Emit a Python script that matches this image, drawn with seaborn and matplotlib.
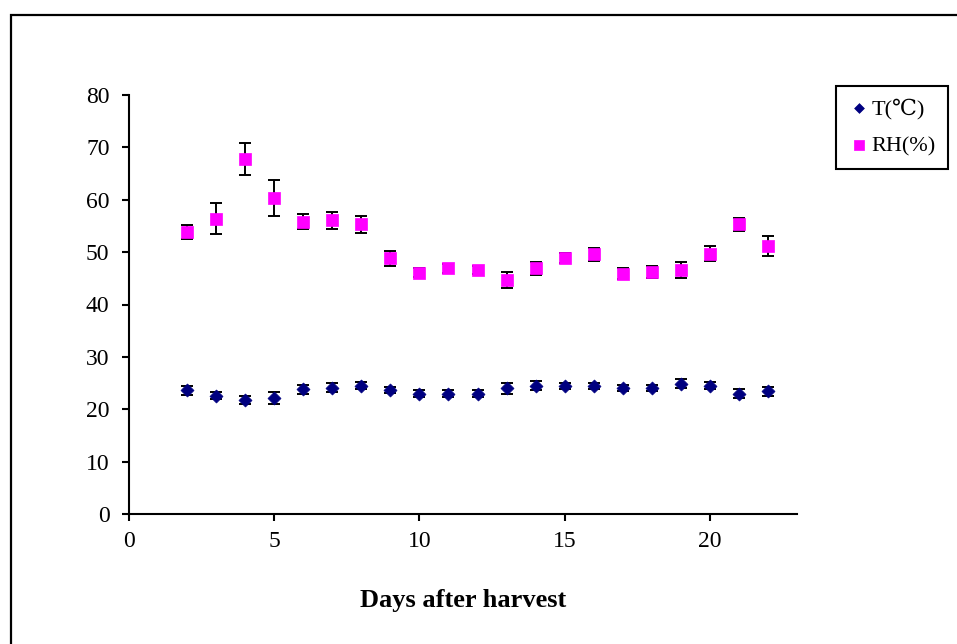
import matplotlib
matplotlib.use("Agg")
import matplotlib.pyplot as plt
import seaborn as sns
import pandas as pd
from matplotlib.patches import Rectangle

days = [2, 3, 4, 5, 6, 7, 8, 9, 10, 11, 12, 13, 14, 15, 16, 17, 18, 19, 20, 21, 22]
temp = [23.6, 22.6, 21.8, 22.1, 23.8, 24.1, 24.5, 23.7, 23.0, 23.0, 23.0, 24.0,
        24.5, 24.5, 24.5, 24.1, 24.1, 24.9, 24.5, 23.0, 23.4]
temp_err = [0.8, 0.7, 0.8, 1.1, 0.8, 0.9, 0.7, 0.6, 0.6, 0.7, 0.7, 1.1,
            0.8, 0.6, 0.6, 0.6, 0.6, 0.8, 0.7, 0.8, 0.8]
rh = [53.8, 56.4, 67.8, 60.3, 55.8, 56.1, 55.3, 48.8, 46.1, 46.9, 46.6, 44.7,
      46.9, 48.9, 49.6, 45.9, 46.2, 46.6, 49.7, 55.3, 51.1]
rh_err = [1.3, 3.0, 3.1, 3.4, 1.4, 1.6, 1.6, 1.5, 0.9, 0.9, 0.8, 1.6,
          1.2, 1.0, 1.2, 1.0, 1.2, 1.6, 1.4, 1.3, 1.9]
x_ticks = [0, 5, 10, 15, 20]
y_ticks = [0, 10, 20, 30, 40, 50, 60, 70, 80]
labels = ["T(\u2103)", "RH(%)"]
xlabel = "Days after harvest"

sns.set_style("ticks")
plt.rcParams["font.family"] = ["Liberation Serif", "DejaVu Serif"]
plt.rcParams["text.color"] = "black"

df_t = pd.DataFrame({"day": days, "value": temp, "err": temp_err})
df_rh = pd.DataFrame({"day": days, "value": rh, "err": rh_err})

fig = plt.figure(figsize=(9.57, 6.44), dpi=100)
ax = fig.add_axes([129 / 957, 1 - 514 / 644, (797 - 129) / 957, (514 - 95) / 644])

for df in (df_t, df_rh):
    ax.errorbar(df["day"], df["value"], yerr=df["err"], fmt="none", ecolor="black",
                elinewidth=1.4, capsize=4.5, capthick=1.4, zorder=2)

sns.scatterplot(data=df_t, x="day", y="value", marker="D", s=44, color="#000080",
                edgecolor="#000080", linewidth=0.5, label=labels[0], ax=ax, zorder=3)
sns.scatterplot(data=df_rh, x="day", y="value", marker="s", s=80, color="#FF00FF",
                edgecolor="#FF00FF", linewidth=0.5, label=labels[1], ax=ax, zorder=3)

ax.set_xlim(0, 23)
ax.set_ylim(0, 80)
ax.set_xticks(x_ticks)
ax.set_yticks(y_ticks)
ax.set_xlabel("")
ax.set_ylabel("")
for side in ("top", "right"):
    ax.spines[side].set_visible(False)
for side in ("left", "bottom"):
    ax.spines[side].set_linewidth(1.5)
    ax.spines[side].set_color("black")
ax.tick_params(axis="both", direction="out", length=5, width=1.5, colors="black",
               labelcolor="black", labelsize=17)
ax.tick_params(axis="y", pad=9)
ax.tick_params(axis="x", pad=7)

leg = ax.legend(loc="upper left", bbox_to_anchor=(836 / 957, 1 - 86 / 644),
                bbox_transform=fig.transFigure, frameon=True, fancybox=False,
                fontsize=16, markerscale=0.75, handletextpad=0.05, handlelength=1.0,
                borderpad=0.55, labelspacing=0.75, borderaxespad=0)
leg.get_frame().set_edgecolor("black")
leg.get_frame().set_linewidth(1.5)
leg.get_frame().set_alpha(1)
for t in leg.get_texts():
    t.set_color("black")

fig.text(463 / 957, 1 - 600 / 644, xlabel, ha="center", va="center",
         fontsize=19, fontweight="bold", color="black")

fig.patches.append(Rectangle((11 / 957, -10 / 644), (970 - 11) / 957, (654 - 15) / 644,
                             transform=fig.transFigure, fill=False, edgecolor="black",
                             linewidth=1.6, zorder=10))

fig.savefig("out.png", dpi=100)
